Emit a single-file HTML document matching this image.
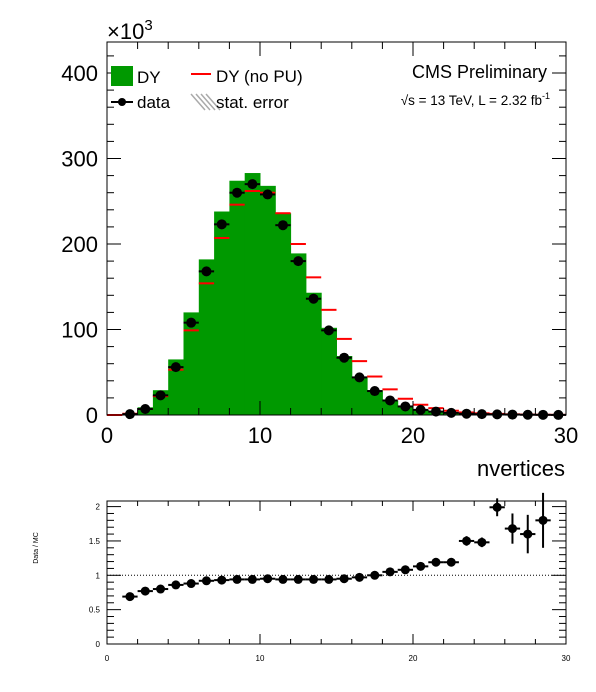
<!DOCTYPE html>
<html><head><meta charset="utf-8"><style>
body{margin:0;background:#fff;}
svg{display:block;font-family:"Liberation Sans",sans-serif;}
</style></head><body>
<svg id="c" width="596" height="692"></svg>
<script>
const bins=[0,1,2,3,4,5,6,7,8,9,10,11,12,13,14,15,16,17,18,19,20,21,22,23,24,25,26,27,28,29];
const mcDY=[0,1,9,29,65,120,182,238,274,283,268,236,189,143,102,69,45,29,17,10,6,3.5,2.1,1.2,0.8,0.5,0.3,0.2,0.1,0.05];
const dataVals=[0,1,7,23,56,108,168,223,260,270,258,222,180,136,99,67,44,28,17,10,6,4,2.5,1.5,1,0.7,0.5,0.3,0.2,0.1];
const noPU=[0,1.5,7,22,53,99,154,207,246,262,260,236,200,161,123,89,63,45,30,19,12,8,5,3,2,1.3,0.8,0.5,0.3,0.2];
const ratioX=[1,2,3,4,5,6,7,8,9,10,11,12,13,14,15,16,17,18,19,20,21,22,23,24,25,26,27,28];
const ratioVals=[0.69,0.77,0.80,0.86,0.88,0.92,0.93,0.94,0.94,0.95,0.94,0.94,0.94,0.94,0.95,0.97,1.0,1.05,1.08,1.13,1.19,1.19,1.50,1.48,1.99,1.68,1.60,1.80];
const ratioErr=[0.01,0.01,0.01,0.01,0.01,0.01,0.01,0.01,0.01,0.01,0.01,0.01,0.01,0.01,0.01,0.01,0.01,0.02,0.02,0.02,0.03,0.03,0.07,0.07,0.13,0.22,0.28,0.4];
const yTicks=[0,100,200,300,400];
const xTicks=[0,10,20,30];
const rTicks=[0,0.5,1,1.5,2];
const rTickLabels=["0","0.5","1","1.5","2"];

const S=document.getElementById('c');const NS='http://www.w3.org/2000/svg';
function el(t,a,p){const e=document.createElementNS(NS,t);for(const k in a)e.setAttribute(k,a[k]);(p||S).appendChild(e);return e;}
const X0=107,X1=566;
const xs=v=>X0+(X1-X0)*v/30;
const ys=v=>415-0.855*v;
const ry=v=>644-68.7*v;

let g=el('g',{});
for(let i=0;i<bins.length;i++){
  const b=bins[i];const r=el('rect',{x:xs(b),y:ys(mcDY[i]),width:xs(b+1)-xs(b)+0.5,height:415-ys(mcDY[i]),fill:'#009900'},g);
  
}
for(let i=0;i<bins.length;i++){
  const b=bins[i];const l=el('line',{x1:xs(b),x2:xs(b+1),y1:ys(noPU[i]),y2:ys(noPU[i]),stroke:'#ff0000','stroke-width':2},g);
  
}
for(let i=1;i<bins.length;i++){
  const b=bins[i];const cx=xs(b+0.5),cy=ys(dataVals[i]);
  el('line',{x1:xs(b),x2:xs(b+1),y1:cy,y2:cy,stroke:'#000','stroke-width':2},g);
  const c=el('circle',{cx:cx,cy:cy,r:5,fill:'#000'},g);
  
}
el('rect',{x:X0,y:42,width:X1-X0,height:373,fill:'none',stroke:'#000','stroke-width':1},g);
for(let v=0;v<=440;v+=20){const y=ys(v);if(y<42)break;const L=v%100==0?14:7;
  el('line',{x1:X0,x2:X0+L,y1:y,y2:y,stroke:'#000'},g);el('line',{x1:X1,x2:X1-L,y1:y,y2:y,stroke:'#000'},g);}
for(let v=0;v<=30;v+=2){const x=xs(v);const L=v%10==0?14:7;
  el('line',{x1:x,x2:x,y1:415,y2:415-L,stroke:'#000'},g);el('line',{x1:x,x2:x,y1:42,y2:42+L,stroke:'#000'},g);}
yTicks.forEach(v=>{const t=el('text',{x:98,y:ys(v)+8,'text-anchor':'end','font-size':22},g);t.textContent=v;
  });
xTicks.forEach(v=>{const t=el('text',{x:xs(v),y:443,'text-anchor':'middle','font-size':22},g);t.textContent=v;
  });
let t=el('text',{x:107,y:39,'font-size':22});t.innerHTML='×10<tspan dy="-9" font-size="15">3</tspan>';

t=el('text',{x:565,y:476,'text-anchor':'end','font-size':22});t.textContent='nvertices';

let lg=el('g',{});
el('rect',{x:111,y:66,width:22,height:20,fill:'#009900'},lg);
t=el('text',{x:137,y:83,'font-size':17},lg);t.textContent='DY';
el('line',{x1:191,x2:211,y1:74,y2:74,stroke:'#ff0000','stroke-width':2},lg);
t=el('text',{x:216,y:82,'font-size':17},lg);t.textContent='DY (no PU)';
el('line',{x1:111,x2:133,y1:102,y2:102,stroke:'#000','stroke-width':2},lg);el('circle',{cx:122,cy:102,r:4,fill:'#000'},lg);
t=el('text',{x:137,y:108,'font-size':17},lg);t.textContent='data';
for(let k=0;k<4;k++)el('line',{x1:191+k*5,y1:94,x2:205+k*5,y2:110,stroke:'#aaa','stroke-width':1.5},lg);
t=el('text',{x:216,y:108,'font-size':17},lg);t.textContent='stat. error';
t=el('text',{x:547,y:78,'text-anchor':'end','font-size':18});t.textContent='CMS Preliminary';

t=el('text',{x:550,y:105,'text-anchor':'end','font-size':13.5});t.innerHTML='√s = 13 TeV, L = 2.32 fb<tspan dy="-6" font-size="9">-1</tspan>';


let rg=el('g',{});
el('line',{x1:X0,x2:X1,y1:ry(1),y2:ry(1),stroke:'#000','stroke-dasharray':'1,2'},rg);
for(let i=0;i<ratioX.length;i++){const b=ratioX[i];const cy=ry(ratioVals[i]);
  el('line',{x1:xs(b),x2:xs(b+1),y1:cy,y2:cy,stroke:'#000','stroke-width':2},rg);
  el('line',{x1:xs(b+0.5),x2:xs(b+0.5),y1:ry(ratioVals[i]-ratioErr[i]),y2:ry(ratioVals[i]+ratioErr[i]),stroke:'#000','stroke-width':2},rg);
  const c=el('circle',{cx:xs(b+0.5),cy:cy,r:4.5,fill:'#000'},rg);
  }
el('rect',{x:X0,y:501,width:X1-X0,height:143,fill:'none',stroke:'#000'},rg);
for(let v=0;v<=2.05;v+=0.1){const y=ry(v);const L=Math.abs(v*2-Math.round(v*2))<0.01?14:7;
  el('line',{x1:X0,x2:X0+L,y1:y,y2:y,stroke:'#000'},rg);el('line',{x1:X1,x2:X1-L,y1:y,y2:y,stroke:'#000'},rg);}
for(let v=0;v<=30;v+=2){const x=xs(v);const L=v%10==0?10:5;
  el('line',{x1:x,x2:x,y1:644,y2:644-L,stroke:'#000'},rg);el('line',{x1:x,x2:x,y1:501,y2:501+L,stroke:'#000'},rg);}
rTicks.forEach((v,i)=>{const t=el('text',{x:100,y:ry(v)+3,'text-anchor':'end','font-size':8},rg);t.textContent=rTickLabels[i];
  });
xTicks.forEach(v=>{const t=el('text',{x:xs(v),y:661,'text-anchor':'middle','font-size':8},rg);t.textContent=v;
  });
t=el('text',{x:0,y:0,'font-size':7,'text-anchor':'middle',transform:'translate(38,548) rotate(-90)'},rg);t.textContent='Data / MC';

</script>
</body></html>
